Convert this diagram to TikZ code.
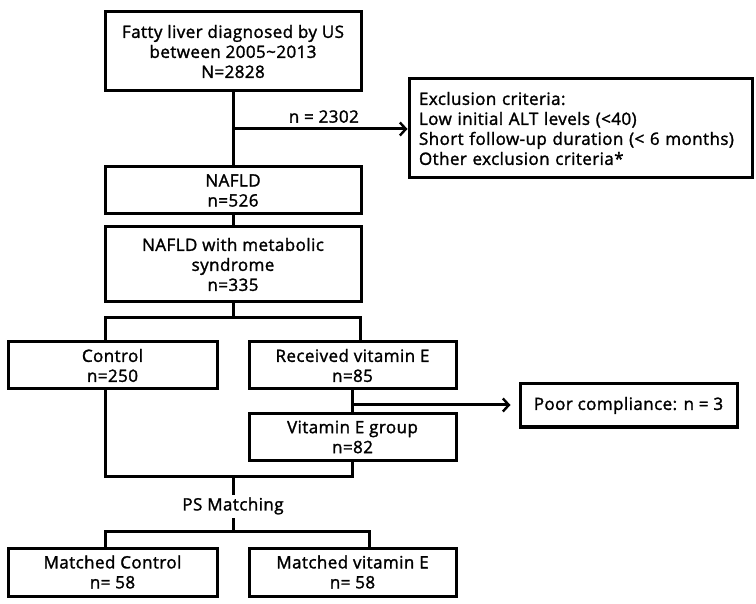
\documentclass[tikz,border=0pt]{standalone}
\usepackage{fontspec}
\setmainfont{Open Sans}[FakeBold=1.6,LetterSpace=2.5]
\usetikzlibrary{arrows.meta}
\begin{document}
\begin{tikzpicture}[x=1pt,y=-1pt,
  every node/.style={font=\fontsize{17}{20}\selectfont},
  box/.style={draw,line width=3pt,align=center,inner sep=0pt},
  line/.style={line width=3pt},
  arr/.style={line width=3pt,-{Straight Barb[length=6pt,width=13pt,line width=2.4pt]}}]
\useasboundingbox (0,0) rectangle (756,604);
\node[box,minimum width=256,minimum height=79] (top) at (233,51.5) {Fatty liver diagnosed by US\\between 2005\textasciitilde2013\\N=2828};
\node[box,minimum width=343,minimum height=99,align=left,text width=323] (excl) at (580.5,128.5) {Exclusion criteria:\\Low initial ALT levels (<40)\\Short follow-up duration (< 6 months)\\Other exclusion criteria*};
\node[box,minimum width=256,minimum height=47] (nafld) at (233,190.5) {NAFLD\\n=526};
\node[box,minimum width=256,minimum height=75] (meta) at (233,264.5) {NAFLD with metabolic\\syndrome\\n=335};
\node[box,minimum width=209,minimum height=47] (ctrl) at (112.5,365.5) {Control\\n=250};
\node[box,minimum width=207,minimum height=47] (rec) at (352.5,365.5) {Received vitamin E\\n=85};
\node[box,minimum width=207,minimum height=46] (vit) at (352.5,437) {Vitamin E group\\n=82};
\node[box,minimum width=217,minimum height=43] (poor) at (628.5,405.5) {Poor compliance: n = 3};
\node[box,minimum width=209,minimum height=48] (mc) at (112.5,572) {Matched Control\\n= 58};
\node[box,minimum width=207,minimum height=48] (mv) at (352.5,572) {Matched vitamin E\\n= 58};
\coordinate (j1) at (233,129);
\coordinate (j2) at (233,318);
\coordinate (j3) at (353,405);
\coordinate (j4) at (233,476);
\coordinate (j5) at (233,531);
\draw[line] (top.south) -- (nafld.north);
\draw[arr] (j1) -- (j1 -| excl.west);
\node[anchor=south east,inner sep=0pt] (n2302) at (359,123) {n = 2302};
\draw[line] (nafld.south) -- (meta.north);
\draw[line] (meta.south) -- (j2);
\draw[line] ([xshift=-7.5pt]ctrl.north) |- ([xshift=7.5pt]rec.north |- j2) -- ([xshift=7.5pt]rec.north);
\draw[line] (rec.south) -- (vit.north);
\draw[arr,shorten >=8pt] (j3) -- (j3 -| poor.west);
\draw[line] ([xshift=-7.5pt]ctrl.south) |- (vit.south |- j4) -- (vit.south);
\draw[line] (j4) -- (j5);
\node[fill=white,inner xsep=2pt,inner ysep=3pt] (ps) at (233,506) {PS Matching};
\draw[line] ([xshift=-7.5pt]mc.north) |- ([xshift=16.5pt]mv.north |- j5) -- ([xshift=16.5pt]mv.north);
\end{tikzpicture}
\end{document}
